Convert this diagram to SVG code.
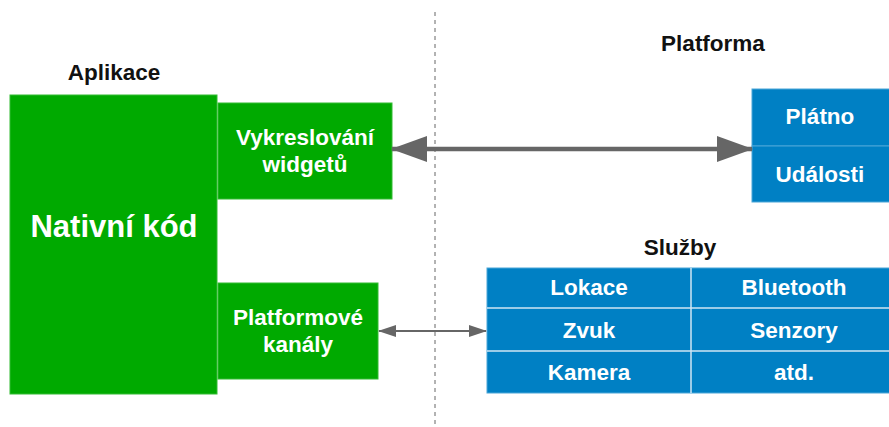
<svg xmlns="http://www.w3.org/2000/svg" width="889" height="427" viewBox="0 0 889 427">
<style>
.t{font-family:"Liberation Sans",Arial,sans-serif;font-weight:bold;text-anchor:middle}
.title{font-size:22.5px;fill:#111}
.lbl{font-size:22.5px;fill:#fff}
.g{fill:#00aa00;stroke:#33bb33;stroke-width:1}
.b{fill:#0080c4;stroke:#4aa6d8;stroke-width:1}
.div{stroke:#cfe6f5;stroke-width:1.5}
</style>
<defs>
<marker id="big" viewBox="0 0 36 26" refX="35" refY="13" markerWidth="36" markerHeight="26" markerUnits="userSpaceOnUse" orient="auto-start-reverse"><path d="M0,0 L36,13 L0,26 Z" fill="#666"/></marker>
<marker id="sm" viewBox="0 0 18 12" refX="17" refY="6" markerWidth="18" markerHeight="12" markerUnits="userSpaceOnUse" orient="auto-start-reverse"><path d="M0,0 L18,6 L0,12 Z" fill="#666"/></marker>
</defs>
<rect width="889" height="427" fill="#fff"/>
<line x1="435" y1="12" x2="435" y2="427" stroke="#666" stroke-width="1" stroke-dasharray="4,4"/>
<g id="aplikace-title"><text class="t title" x="114" y="80">Aplikace</text></g>
<g id="platforma-title"><text class="t title" x="713" y="51">Platforma</text></g>
<g id="sluzby-title"><text class="t title" x="680" y="255">Služby</text></g>
<g id="nativni"><rect class="g" x="10" y="95" width="207" height="299"/><text class="t lbl" x="114" y="237" style="font-size:31px">Nativní kód</text></g>
<g id="vykreslovani"><rect class="g" x="218" y="103" width="174" height="96"/><text class="t lbl" x="305" y="145">Vykreslování</text><text class="t lbl" x="305" y="172">widgetů</text></g>
<g id="kanaly"><rect class="g" x="218" y="283" width="160" height="96"/><text class="t lbl" x="298" y="325">Platformové</text><text class="t lbl" x="298" y="352">kanály</text></g>
<g id="platno"><rect class="b" x="752" y="89" width="140" height="57"/><text class="t lbl" x="820" y="124">Plátno</text></g>
<g id="udalosti"><rect class="b" x="752" y="146" width="140" height="56"/><text class="t lbl" x="820" y="182">Události</text></g>
<g id="sluzby">
<rect class="b" x="487" y="268" width="405" height="125"/>
<line class="div" x1="691" y1="268" x2="691" y2="393"/>
<line class="div" x1="487" y1="308" x2="892" y2="308"/>
<line class="div" x1="487" y1="351" x2="892" y2="351"/>
<text class="t lbl" x="589" y="295">Lokace</text>
<text class="t lbl" x="794" y="295">Bluetooth</text>
<text class="t lbl" x="589" y="338">Zvuk</text>
<text class="t lbl" x="794" y="338">Senzory</text>
<text class="t lbl" x="589" y="380">Kamera</text>
<text class="t lbl" x="794" y="380">atd.</text>
</g>
<g id="connectors">
<line x1="392" y1="149" x2="752" y2="149" stroke="#666" stroke-width="4.5" marker-start="url(#big)" marker-end="url(#big)"/>
<line x1="379" y1="331" x2="486" y2="331" stroke="#666" stroke-width="2.2" marker-start="url(#sm)" marker-end="url(#sm)"/>
</g>
</svg>
